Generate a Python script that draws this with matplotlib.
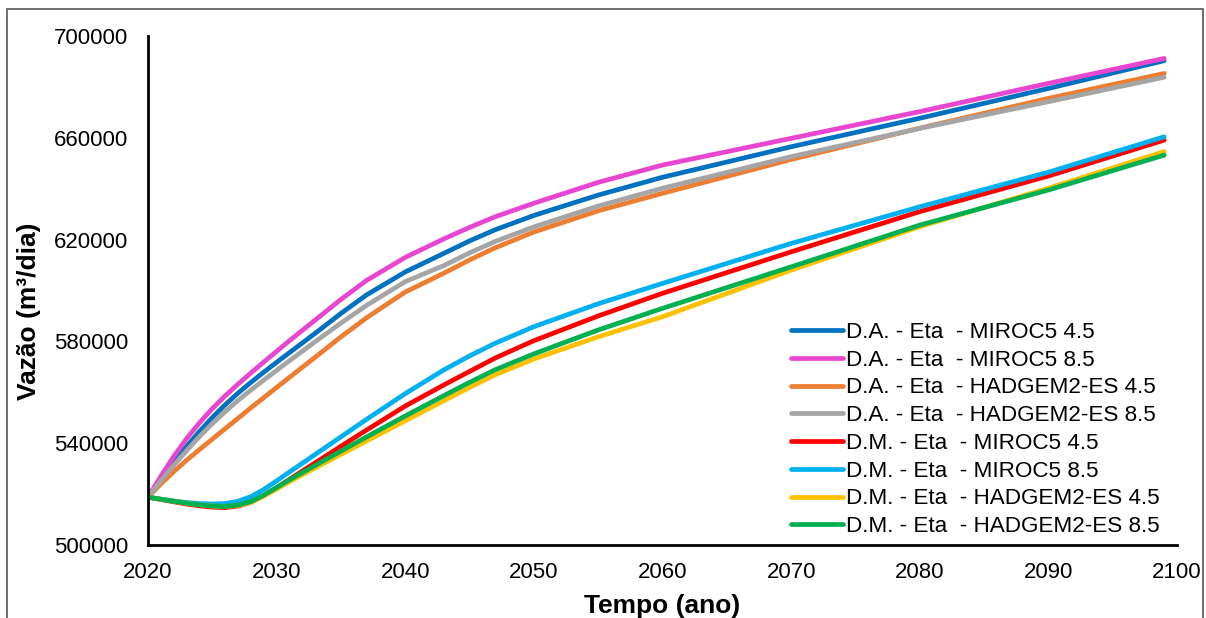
import numpy as np
import matplotlib.pyplot as plt
from matplotlib.patches import Rectangle

plt.rcParams['font.family'] = ['Liberation Sans', 'DejaVu Sans']

anos = [2020, 2021, 2022, 2023, 2024, 2025, 2026, 2027, 2028, 2029, 2030, 2031, 2033,
        2035, 2037, 2040, 2043, 2045, 2047, 2050, 2055, 2060, 2070, 2080, 2090, 2099]

# vazao (m3/dia) por cenario
da_miroc45 = [518800, 525800, 532400, 538700, 544600, 550100, 555100, 559700, 563900, 567900, 571800, 575600, 583200,
              591000, 598300, 607300, 614600, 619500, 623900, 629500, 637500, 644500, 656500, 667700, 679400, 690300]
da_miroc85 = [518800, 527000, 534800, 541800, 548000, 553600, 558600, 563200, 567600, 571900, 576100, 580300, 588400,
              596500, 604000, 613000, 620300, 624800, 629000, 634300, 642500, 649300, 659800, 670300, 681400, 691200]
da_had45 = [518800, 524000, 528800, 533300, 537500, 541600, 545700, 549800, 553900, 557900, 561900, 565900, 573800,
            581800, 589300, 599400, 606800, 612000, 616800, 623000, 631300, 638200, 651500, 663800, 675500, 685300]
da_had85 = [518800, 525200, 531300, 537100, 542600, 547700, 552400, 556800, 560900, 564800, 568600, 572400, 579900,
            587200, 594200, 603500, 609800, 614800, 619300, 625000, 633200, 640200, 652600, 663700, 674200, 683800]
dm_miroc45 = [518800, 517900, 517000, 516100, 515400, 514900, 514700, 515300, 516800, 519400, 522500, 525800, 532300,
              538800, 545200, 554600, 562900, 568200, 573500, 580300, 590000, 598900, 615200, 631000, 645000, 659100]
dm_miroc85 = [518800, 518000, 517300, 516700, 516300, 516100, 516300, 517200, 519000, 521800, 525200, 528700, 535600,
              542500, 549400, 559500, 568800, 574300, 579300, 585800, 594800, 602800, 618500, 632900, 646500, 660400]
dm_had45 = [518800, 518000, 517200, 516400, 515800, 515300, 515100, 515500, 516800, 519200, 522000, 524900, 530300,
            535600, 540900, 548800, 556700, 561900, 566900, 573100, 581800, 589700, 608000, 625100, 640200, 654600]
dm_had85 = [518800, 518000, 517200, 516400, 515800, 515300, 515100, 515700, 517100, 519600, 522600, 525600, 531300,
            536900, 542500, 550700, 558700, 563900, 568900, 575100, 584500, 593000, 609300, 625700, 639500, 653200]

series = [da_miroc45, da_miroc85, da_had45, da_had85, dm_miroc45, dm_miroc85, dm_had45, dm_had85]
rotulos = ['D.A. - Eta  - MIROC5 4.5', 'D.A. - Eta  - MIROC5 8.5',
           'D.A. - Eta  - HADGEM2-ES 4.5', 'D.A. - Eta  - HADGEM2-ES 8.5',
           'D.M. - Eta  - MIROC5 4.5', 'D.M. - Eta  - MIROC5 8.5',
           'D.M. - Eta  - HADGEM2-ES 4.5', 'D.M. - Eta  - HADGEM2-ES 8.5']
cores = ['#0070C0', '#E846D0', '#ED7D31', '#A5A5A5', '#FF0000', '#00B0F0', '#FFC000', '#00B050']

fig = plt.figure(figsize=(12.06, 6.18), dpi=100)
ax = fig.add_axes([0.1227, 0.1181, 0.8533, 0.8236])

for s, r, c in zip(series, rotulos, cores):
    ax.plot(anos, s, color=c, lw=3.4, label=r, solid_capstyle='round', solid_joinstyle='round')

ax.set_xlim(2020, 2100)
ax.set_ylim(500000, 700000)
ax.set_xticks(np.arange(2020, 2101, 10))
ax.set_yticks(np.arange(500000, 700001, 40000))
ax.tick_params(length=0, labelsize=16)
ax.tick_params(axis='x', pad=12.5)
ax.tick_params(axis='y', pad=14)
for lado in ['top', 'right']:
    ax.spines[lado].set_visible(False)
for lado in ['left', 'bottom']:
    ax.spines[lado].set_linewidth(2)

ax.set_ylabel('Vazão (m³/dia)', fontsize=19, fontweight='bold')
ax.set_xlabel('Tempo (ano)', fontsize=19, fontweight='bold')
ax.yaxis.set_label_coords(-0.104, 0.46)
ax.xaxis.set_label_coords(0.5, -0.097)

ax.legend(loc='upper left', bbox_to_anchor=(0.616, 0.456), frameon=False, fontsize=16.2,
          handlelength=2.3, handletextpad=0.13, labelspacing=0.3, borderaxespad=0)

fig.patches.append(Rectangle((7 / 1206, -0.05), 1196 / 1206, 1.05 - 9 / 618,
                             transform=fig.transFigure, fill=False,
                             edgecolor='#555555', lw=1.2))

fig.savefig('out.png', dpi=100)
